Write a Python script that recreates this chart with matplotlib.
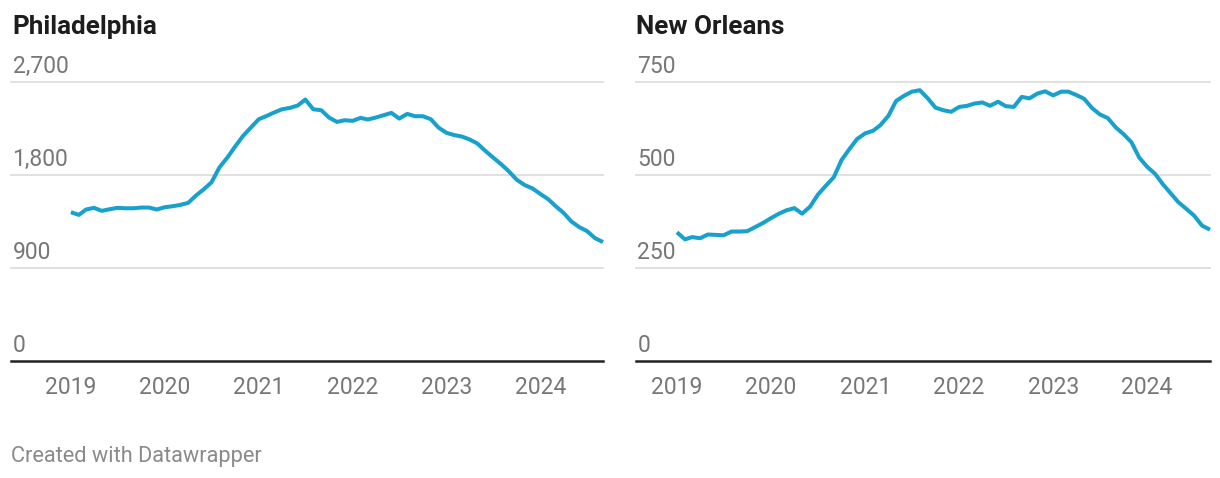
import numpy as np
import pandas as pd
import matplotlib
matplotlib.use('Agg')
import matplotlib.pyplot as plt
from matplotlib.transforms import ScaledTranslation

# monthly values, Jan 2019 .. Sep 2024
dates = pd.date_range('2019-01-01', periods=69, freq='MS')

philadelphia = [1440, 1414, 1466, 1482, 1453, 1469, 1482, 1478, 1478, 1485, 1485, 1466,
                1488, 1498, 1510, 1530, 1600, 1662, 1729, 1874, 1970, 2076, 2179, 2259,
                2340, 2372, 2404, 2436, 2449, 2472, 2530, 2436, 2427, 2356, 2314, 2330,
                2324, 2353, 2337, 2356, 2378, 2401, 2346, 2391, 2369, 2369, 2340, 2259,
                2208, 2186, 2173, 2144, 2105, 2034, 1970, 1906, 1835, 1755, 1703, 1671,
                1617, 1565, 1498, 1433, 1350, 1295, 1257, 1189, 1151]

new_orleans = [346, 327, 333, 330, 340, 339, 338, 348, 348, 349, 360, 371,
               384, 396, 405, 411, 396, 415, 447, 471, 494, 540, 570, 597,
               612, 619, 634, 659, 699, 713, 724, 728, 706, 681, 674, 670,
               683, 686, 692, 695, 686, 697, 685, 683, 710, 706, 719, 725,
               714, 724, 724, 715, 705, 680, 663, 653, 628, 610, 588, 547,
               522, 503, 476, 451, 427, 409, 391, 364, 353]

phl_ticks = [0, 900, 1800, 2700]
phl_labels = ['0', '900', '1,800', '2,700']
nola_ticks = [0, 250, 500, 750]
nola_labels = ['0', '250', '500', '750']
years = [2019, 2020, 2021, 2022, 2023, 2024]

plt.rcParams['font.family'] = ['Roboto', 'DejaVu Sans']

W, H = 1220, 478
fig = plt.figure(figsize=(W / 100, H / 100), dpi=100)
fig.patch.set_facecolor('white')

LINE = '#18a1cd'
GRID = '#e1e1e1'
LABEL = '#777777'

Y_BASE, Y_TOP_GRID, Y_AX_TOP = 361, 82, 62


def panel(x0, x1, lead_days, values, ticks, labels, title, title_x):
    ax = fig.add_axes([x0 / W, 1 - Y_BASE / H, (x1 - x0) / W, (Y_BASE - Y_AX_TOP) / H])
    top = ticks[-1] * (Y_BASE - Y_AX_TOP) / (Y_BASE - Y_TOP_GRID)
    ax.set_ylim(0, top)
    ax.set_xlim(dates[0] - pd.Timedelta(days=lead_days), dates[-1])
    for s in ax.spines.values():
        s.set_visible(False)
    ax.set_yticks([])
    for t in ticks[1:]:
        ax.axhline(t, color=GRID, lw=1.4, zorder=1, clip_on=False)
    ax.axhline(0, color='#222222', lw=1.8, zorder=3, clip_on=False)
    ax.plot(dates, values, color=LINE, lw=2.9, zorder=4, clip_on=False,
            solid_joinstyle='round', solid_capstyle='butt')

    off = ax.get_yaxis_transform() + ScaledTranslation(0.015, 0.09, fig.dpi_scale_trans)
    for t, lab in zip(ticks, labels):
        ax.text(0, t, lab, transform=off, ha='left', va='baseline',
                fontsize=16.5, color=LABEL)

    ax.set_xticks([pd.Timestamp(f'{y}-01-01') for y in years])
    ax.set_xticklabels([str(y) for y in years])
    ax.tick_params(axis='x', length=0, pad=11, labelsize=16.5, labelcolor=LABEL)

    fig.text(title_x / W, 1 - 34 / H, title, fontsize=18.7, fontweight='bold',
             color='#1d1d1d', va='baseline', ha='left')
    return ax


panel(11, 603, 233, philadelphia, phl_ticks, phl_labels, 'Philadelphia', 12)
panel(636, 1210, 159, new_orleans, nola_ticks, nola_labels, 'New Orleans', 636)

fig.text(11 / W, 1 - 462 / H, 'Created with Datawrapper', fontsize=15.7,
         color='#8a8a8a', va='baseline', ha='left')

fig.savefig('out.png', dpi=100, facecolor='white')
